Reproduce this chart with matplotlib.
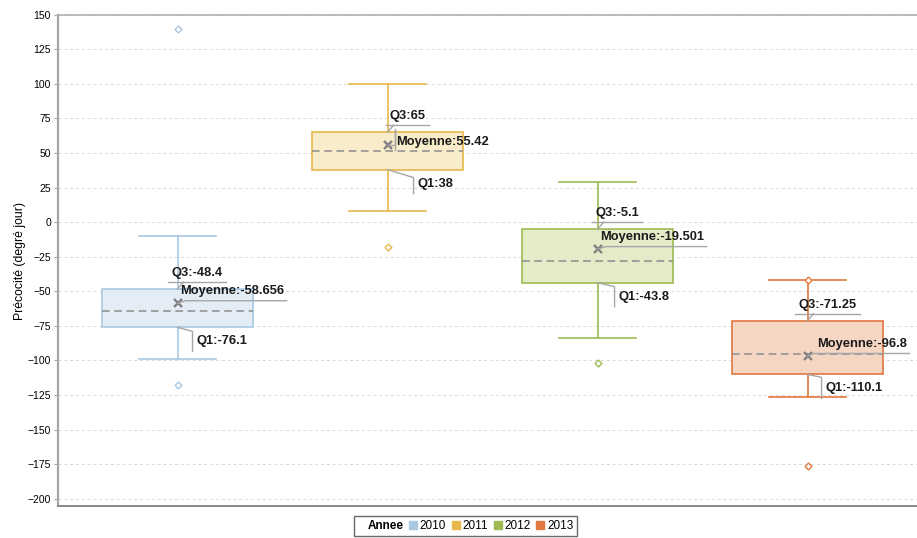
import matplotlib.pyplot as plt
import matplotlib.transforms as mtransforms
from matplotlib.lines import Line2D

# Donnees
annees = ['2010', '2011', '2012', '2013']
moustache_haut = [-10, 100, 28.7, -41.8]
q3 = [-48.4, 65, -5.1, -71.25]
mediane = [-64.2, 51.4, -28.3, -95.4]
q1 = [-76.1, 38, -43.8, -110.1]
moustache_bas = [-99.3, 8.2, -83.5, -126.3]
moyenne = [-58.656, 55.42, -19.501, -96.8]
extremes = [[139.6, -117.9], [-17.8], [-101.7], [-41.8, -176.3]]

couleurs_bord = ['#a9c8e2', '#e8b84a', '#9dbb52', '#e2773f']
couleurs_fond = ['#e4edf6', '#f8ecca', '#e3ebc8', '#f4d6c3']

# placement des etiquettes (decalages en pixels)
q1_decal = [(15, 4), (26, 8), (17, 4), (14, 3)]
moy_style = ['h', 'v', 'h', 'h']
moy_dx = [3, 9, 3, 10]

gris = '#a6a6a6'
police = 'Liberation Sans'

fig = plt.figure(figsize=(9.17, 5.38), dpi=100)
ax = fig.add_axes([58 / 917, (538 - 506.3) / 538, 1 - 58 / 917, (506.3 - 14.7) / 538])

stats = []
for i in range(len(annees)):
    stats.append(dict(med=mediane[i], q1=q1[i], q3=q3[i], whislo=moustache_bas[i],
                      whishi=moustache_haut[i], fliers=extremes[i], mean=moyenne[i]))

bp = ax.bxp(stats, positions=range(len(annees)), widths=0.72, capwidths=0.367,
            patch_artist=True, showmeans=True,
            meanprops=dict(marker='x', markersize=5.5, markeredgewidth=1.7, markeredgecolor='#808080'),
            medianprops=dict(color='#8c8c8c', linewidth=1.1, linestyle=(0, (5, 3))),
            flierprops=dict(marker='D', markersize=3.5, markerfacecolor='white', markeredgewidth=1))

for i in range(len(annees)):
    bp['boxes'][i].set_facecolor(couleurs_fond[i])
    bp['boxes'][i].set_edgecolor(couleurs_bord[i])
    bp['boxes'][i].set_linewidth(1.2)
    bp['fliers'][i].set_markeredgecolor(couleurs_bord[i])
    for j in (2 * i, 2 * i + 1):
        bp['whiskers'][j].set_color(couleurs_bord[i])
        bp['whiskers'][j].set_linewidth(1.2)
        bp['caps'][j].set_color(couleurs_bord[i])
        bp['caps'][j].set_linewidth(1.2)
    bp['medians'][i].set_zorder(3)
    bp['means'][i].set_zorder(5)

ax.set_xlim(-0.569, 3.521)
ax.set_ylim(-205.5, 150)
ax.set_yticks(range(-200, 151, 25))
ax.set_xticks([])
ax.grid(axis='y', color='#d9d9d9', linestyle=(0, (3, 3)), linewidth=0.7)
ax.set_axisbelow(True)
ax.spines['right'].set_visible(False)
ax.spines['top'].set_color('#b0b0b0')
ax.spines['top'].set_linewidth(1.2)
ax.spines['left'].set_color('#a6a6a6')
ax.spines['left'].set_linewidth(1.6)
ax.spines['bottom'].set_color('#888888')
ax.spines['bottom'].set_linewidth(1.4)
ax.tick_params(axis='y', length=3, color='#a6a6a6', pad=2, labelsize=7.5)
for t in ax.get_yticklabels():
    t.set_fontfamily(police)
ax.set_ylabel('Précocité (degré jour)', fontsize=8.8, fontfamily=police, labelpad=1)


def decale(x, y):
    return mtransforms.IdentityTransform() + mtransforms.ScaledTranslation(x, y, ax.transData)


def trait(x, y, xs, ys):
    fig.add_artist(Line2D(xs, ys, transform=decale(x, y), color=gris, linewidth=1, zorder=6))


def texte(x, y, dx, dy, s, **kw):
    return ax.text(dx, dy, s, transform=decale(x, y), fontsize=9.3, fontweight='bold',
                   fontfamily=police, color='#1a1a1a', zorder=7, clip_on=False, **kw)


etiquettes = []
for i in range(len(annees)):
    # Q3 : texte centre au-dessus, souligne
    t3 = texte(i, q3[i], 20, 13, f'Q3:{q3[i]:g}', ha='center', va='baseline')
    trait(i, q3[i], [0, 6], [0, 7])
    etiquettes.append((i, q3[i], t3, 'q3'))

    # Moyenne
    if moy_style[i] == 'h':
        tm = texte(i, moyenne[i], moy_dx[i], 9, f'Moyenne:{moyenne[i]:g}', ha='left', va='baseline')
        etiquettes.append((i, moyenne[i], tm, 'moy'))
    else:
        texte(i, moyenne[i], moy_dx[i], 0.5, f'Moyenne:{moyenne[i]:g}', ha='left', va='baseline')
        trait(i, moyenne[i], [0, 7, 7, 7], [0, 0, 16, -5])

    # Q1 : trait oblique puis vertical, texte a droite
    dx, dy = q1_decal[i]
    trait(i, q1[i], [0, dx, dx], [0, -dy, -24])
    texte(i, q1[i], dx + 4, -17, f'Q1:{q1[i]:g}', ha='left', va='baseline')

# traits dependant de la largeur des textes
fig.canvas.draw()
rendu = fig.canvas.get_renderer()
for x, y, t, genre in etiquettes:
    ext = t.get_window_extent(rendu)
    px, py = ax.transData.transform((x, y))
    if genre == 'q3':
        trait(x, y, [ext.x0 - px - 4, ext.x1 - px + 3], [7, 7])
    else:
        dx0 = 8 if x != 3 else 6
        trait(x, y, [0, dx0, ext.x1 - px + 2], [0, 2.5, 2.5])

# legende
poignees = [Line2D([], [], linestyle='none')]
for c in couleurs_bord:
    poignees.append(Line2D([], [], linestyle='none', marker='s', markersize=6,
                           markerfacecolor=c, markeredgecolor=c))
leg = fig.legend(poignees, ['Annee'] + annees, loc='center',
                 bbox_to_anchor=(465.5 / 917, 1 - 526 / 538), ncol=5, frameon=True,
                 fancybox=False, edgecolor='#444444', handlelength=0.5, handletextpad=0.35,
                 columnspacing=0.55, borderpad=0.3, prop=dict(family=police, size=8.5))
leg.get_frame().set_linewidth(1)
leg.get_texts()[0].set_fontweight('bold')

fig.savefig('out.png', dpi=100)
